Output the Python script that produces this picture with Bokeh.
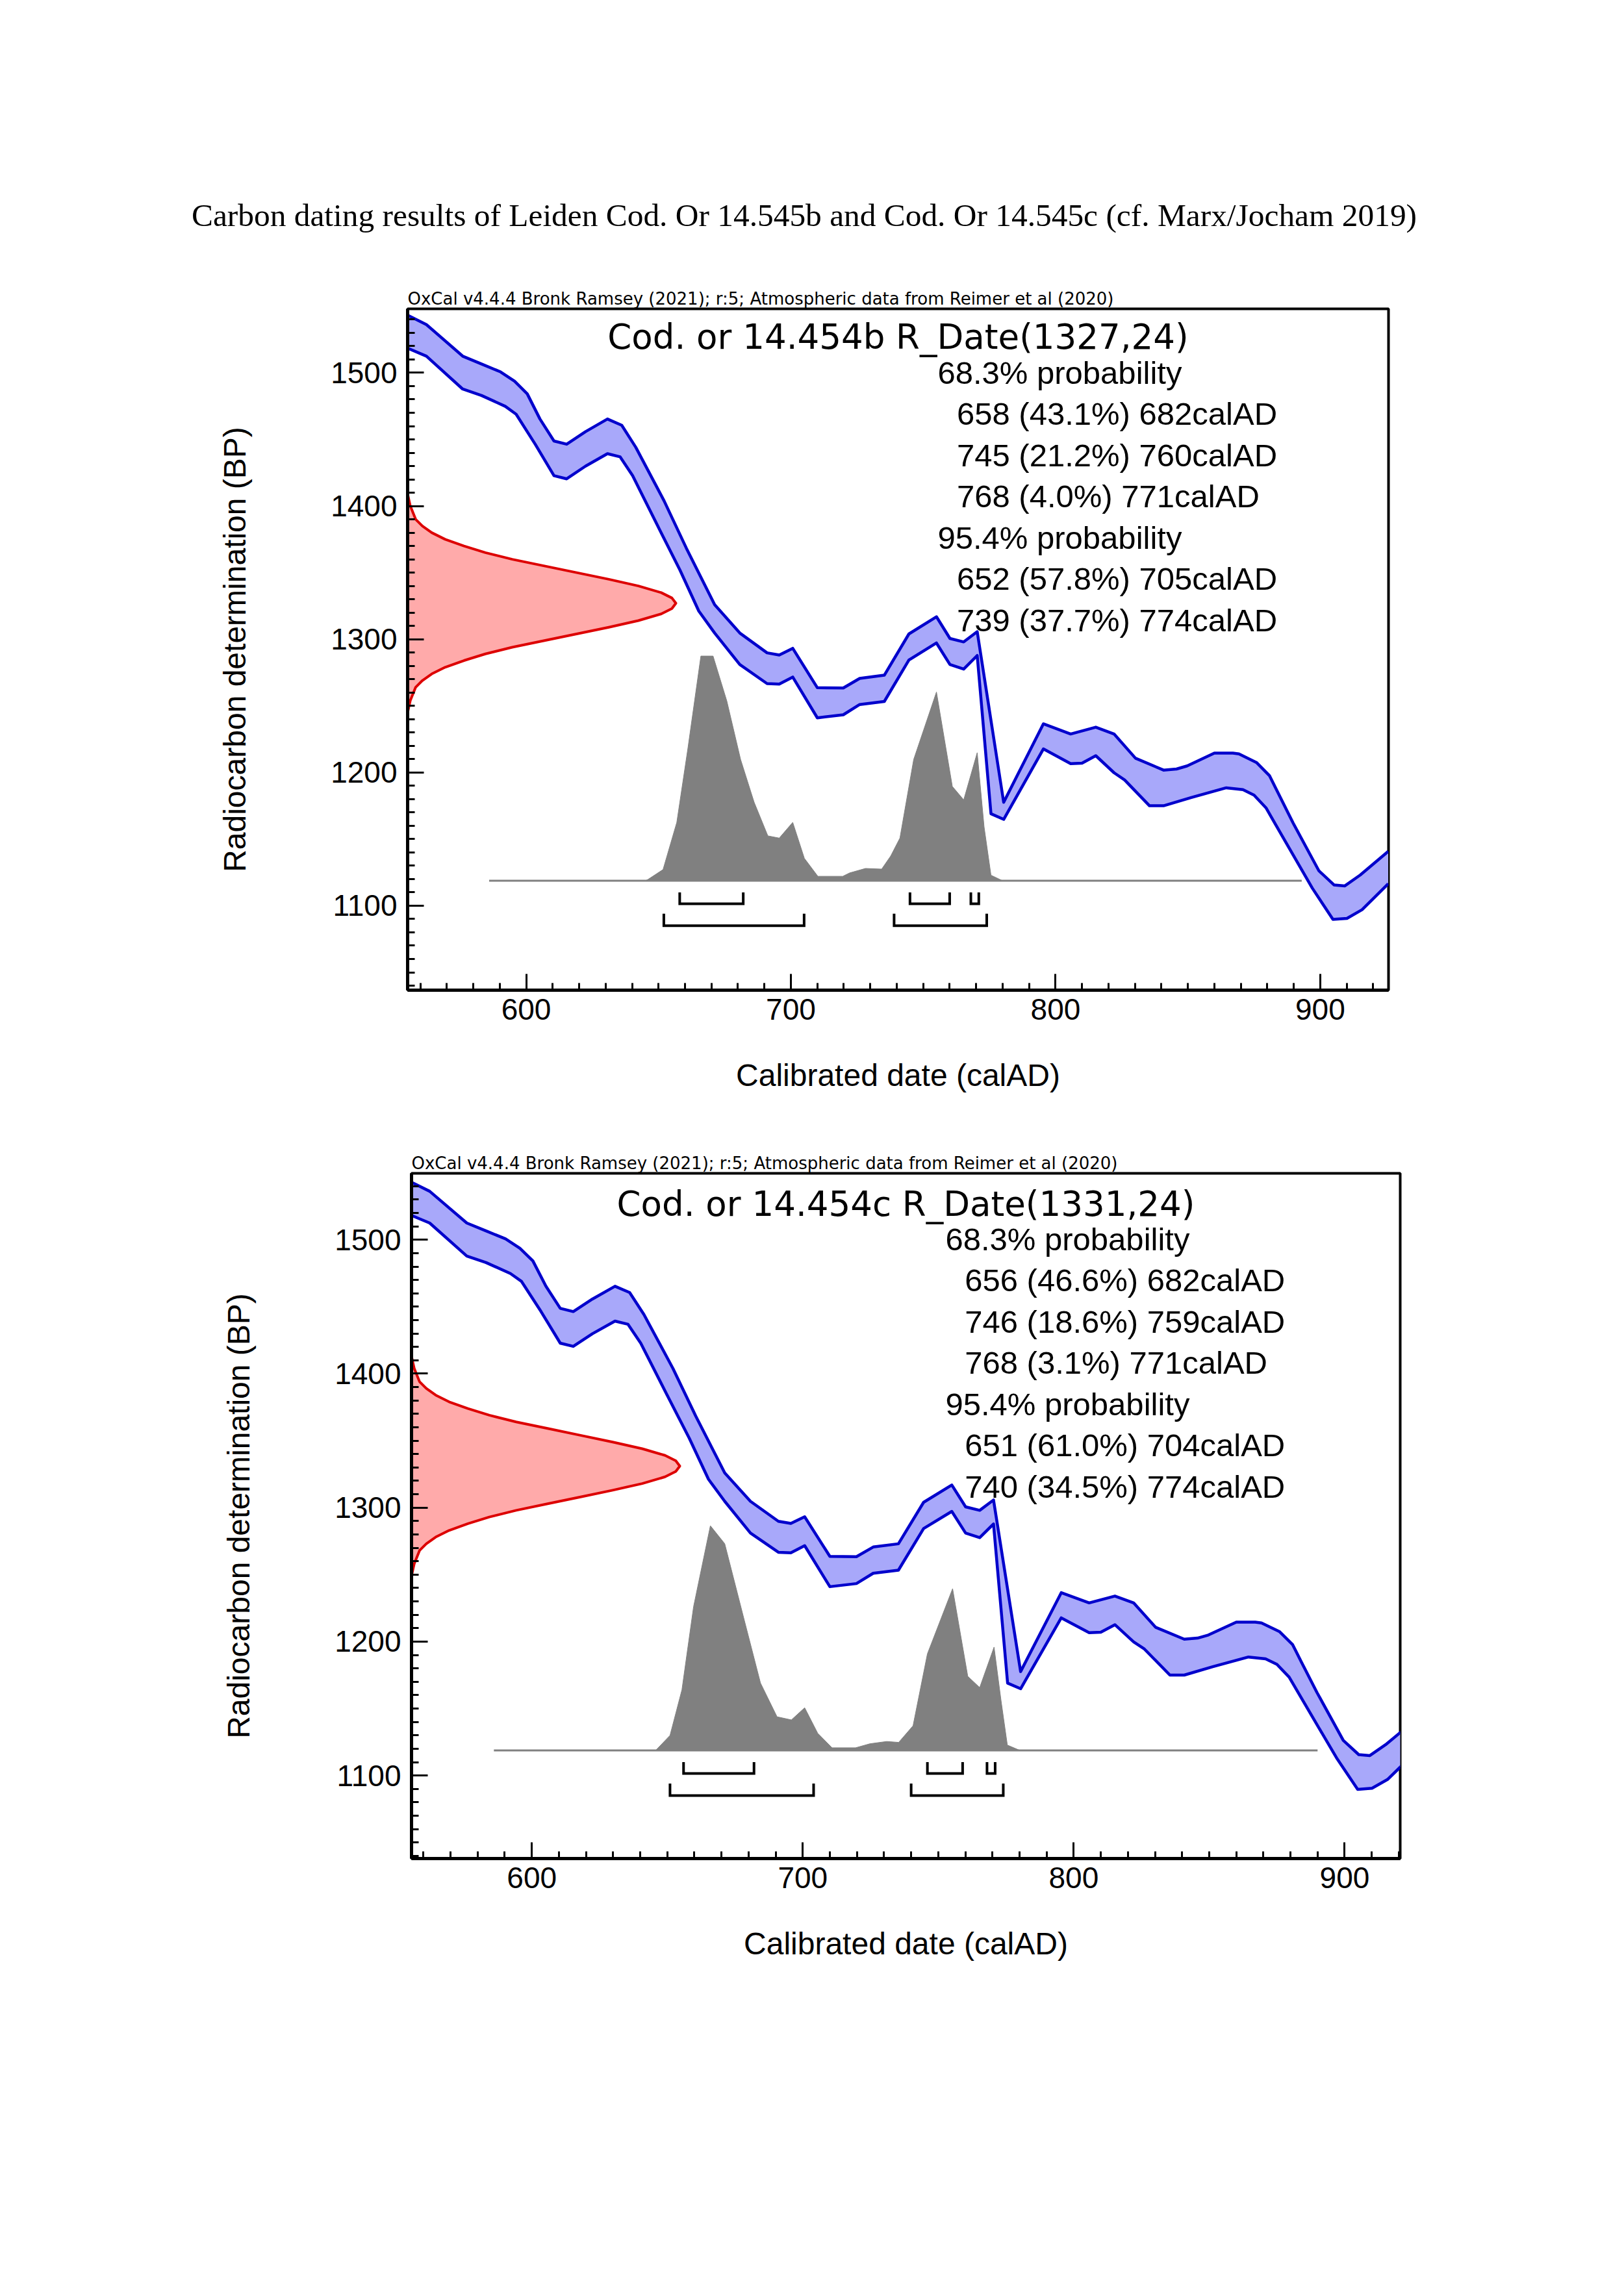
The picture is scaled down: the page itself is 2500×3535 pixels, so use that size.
from bokeh.plotting import figure
from bokeh.layouts import column
from bokeh.models import Range1d, SingleIntervalTicker, Title
from bokeh.embed import file_html
from bokeh.resources import INLINE
from bokeh.core.properties import value

# ---------------- data ----------------
PAGE_TITLE = "Carbon dating results of Leiden Cod. Or 14.545b and Cod. Or 14.545c (cf. Marx/Jocham 2019)"
HEADER = "OxCal v4.4.4 Bronk Ramsey (2021); r:5; Atmospheric data from Reimer et al (2020)"
X_LABEL = "Calibrated date (calAD)"
Y_LABEL = "Radiocarbon determination (BP)"

# calibration curve band (upper / lower edge), calAD vs BP
curve_upper_x = [555.2, 562.3, 576.0, 583.1, 590.3, 595.6, 600.4, 605.2, 610.5, 615.3, 622.4, 630.7, 636.1,
                 641.4, 652.1, 660.5, 671.2, 680.7, 691.0, 695.6, 700.7, 710.0, 719.8, 726.0, 735.3, 744.6,
                 755.0, 760.1, 765.3, 770.4, 780.4, 795.4, 805.7, 815.2, 822.1, 830.2, 840.8, 845.7, 849.7,
                 860.0, 867.0, 869.3, 875.9, 880.8, 884.1, 889.8, 899.5, 905.2, 909.3, 915.1, 925.7]
curve_upper_bp = [1543.3, 1536.2, 1512.5, 1506.6, 1500.7, 1493.7, 1484.2, 1465.3, 1448.8, 1446.4, 1455.8,
                  1465.3, 1460.6, 1444.1, 1403.9, 1368.4, 1325.9, 1304.7, 1289.8, 1288.2, 1293.2, 1263.6,
                  1263.4, 1270.6, 1273.0, 1304.0, 1316.9, 1300.6, 1298.0, 1305.7, 1177.6, 1236.5, 1228.9,
                  1234.0, 1228.9, 1210.7, 1201.8, 1202.6, 1204.9, 1214.5, 1214.5, 1213.9, 1207.5, 1197.7,
                  1184.5, 1161.9, 1126.2, 1115.6, 1114.9, 1123.0, 1140.8]
curve_lower_x = [555.2, 562.3, 576.0, 583.1, 592.1, 596.2, 603.4, 610.5, 615.3, 622.4, 630.7, 635.5, 640.2,
                 649.7, 658.1, 665.2, 671.2, 680.7, 691.0, 695.6, 700.7, 710.0, 719.8, 726.0, 735.3, 744.6,
                 755.0, 760.1, 765.3, 770.4, 775.6, 780.4, 795.4, 805.7, 810.0, 815.2, 822.1, 826.1, 835.5,
                 840.8, 851.3, 864.5, 870.8, 875.0, 879.5, 888.0, 897.0, 904.8, 910.1, 915.8, 925.7]
curve_lower_bp = [1518.5, 1512.5, 1487.8, 1483.0, 1474.8, 1468.9, 1446.4, 1422.8, 1420.4, 1429.9, 1439.3,
                  1436.9, 1422.8, 1385.0, 1351.9, 1321.2, 1304.7, 1281.0, 1266.7, 1266.3, 1271.6, 1241.0,
                  1243.3, 1251.0, 1253.3, 1284.4, 1297.2, 1281.0, 1277.6, 1287.8, 1169.0, 1164.8, 1217.7,
                  1206.6, 1207.0, 1212.6, 1199.8, 1194.4, 1175.0, 1175.0, 1181.2, 1188.5, 1187.1, 1183.0,
                  1173.5, 1144.1, 1113.2, 1089.7, 1090.5, 1097.0, 1116.5]

# relative width of the radiocarbon date curve, read at offsets (BP) from the measured date
r_offset = [82, 73, 63, 58, 53, 48, 43, 38, 33, 28, 23, 18, 13, 8, 4, 0,
            -4, -8, -13, -18, -23, -28, -33, -38, -43, -48, -53, -58, -63, -73, -82]

# sample b
b_name = "Cod. or 14.454b"
b_date, b_err = 1327, 24
b_r_rel = [0.0, 0.01, 0.03, 0.055, 0.09, 0.14, 0.21, 0.29, 0.39, 0.51, 0.63, 0.75, 0.86, 0.945, 0.985, 1.0,
           0.985, 0.945, 0.86, 0.75, 0.63, 0.51, 0.39, 0.29, 0.21, 0.14, 0.09, 0.055, 0.03, 0.01, 0.0]
b_post_x = [645.0, 646.0, 651.7, 656.9, 661.1, 666.0, 670.6, 675.8, 681.0, 686.1, 691.3, 695.6, 700.7, 705.1,
            710.2, 719.6, 722.2, 728.2, 734.3, 737.7, 741.2, 746.4, 755.0, 761.0, 765.3, 770.4, 773.0, 775.6, 780.0]
b_post_rel = [0.0, 0.006, 0.05, 0.26, 0.59, 1.0, 1.0, 0.80, 0.54, 0.35, 0.20, 0.19, 0.26, 0.10,
              0.02, 0.02, 0.035, 0.055, 0.052, 0.11, 0.19, 0.54, 0.84, 0.42, 0.36, 0.57, 0.24, 0.025, 0.0]
b_post_span = [586, 893]
b_68_from = [658, 745, 768]
b_68_to = [682, 760, 771]
b_68_pct = [43.1, 21.2, 4.0]
b_95_from = [652, 739]
b_95_to = [705, 774]
b_95_pct = [57.8, 37.7]

# sample c
c_name = "Cod. or 14.454c"
c_date, c_err = 1331, 24
c_r_rel = [0.0, 0.01, 0.03, 0.055, 0.09, 0.14, 0.21, 0.29, 0.39, 0.51, 0.63, 0.75, 0.86, 0.945, 0.985, 1.0,
           0.985, 0.945, 0.86, 0.75, 0.63, 0.51, 0.39, 0.29, 0.21, 0.14, 0.09, 0.055, 0.03, 0.01, 0.0]
c_post_x = [645.7, 651.0, 655.4, 659.7, 665.9, 671.2, 678.2, 684.4, 690.5, 695.8, 700.7, 705.5, 710.8, 719.5,
            724.8, 731.0, 735.4, 740.7, 746.0, 755.3, 760.9, 765.3, 770.6, 773.2, 775.5, 780.2]
c_post_rel = [0.0, 0.067, 0.27, 0.64, 1.0, 0.92, 0.59, 0.30, 0.15, 0.136, 0.19, 0.077, 0.012, 0.012,
              0.03, 0.04, 0.036, 0.11, 0.43, 0.72, 0.33, 0.28, 0.46, 0.22, 0.024, 0.0]
c_post_span = [586, 890]
c_68_from = [656, 746, 768]
c_68_to = [682, 759, 771]
c_68_pct = [46.6, 18.6, 3.1]
c_95_from = [651, 740]
c_95_to = [704, 774]
c_95_pct = [61.0, 34.5]

# ---------------- styling / layout constants ----------------
BAND_FILL = "#A8A8FA"
BAND_LINE = "#0000CC"
RED_FILL = "#FFAAAA"
RED_LINE = "#DD0000"
GRAY = "#808080"
POST_BASE_BP = 1118.7
R_PEAK_PX = 413
HIST_PEAK_PX = 346
ROW68_BP, ROW68_TOP = 1101.5, 1110.0
ROW95_BP, ROW95_TOP = 1085.0, 1094.0
SANS = "Liberation Sans"


def no_align(p):
    try:
        p.frame_align = False
    except Exception:
        pass


def build(name, date, err, r_rel, post_x, post_rel, post_span,
          f68, t68, p68, f95, t95, p95, xr, yr, L, T, FW, FH, H,
          title_dy, prob_dx, ind_dx, prob_dy):
    R = 2500 - L - FW
    B = H - T - FH
    p = figure(width=2500, height=H, x_range=Range1d(*xr), y_range=Range1d(*yr),
               output_backend="svg", toolbar_location=None,
               min_border_left=L, min_border_right=R, min_border_top=T, min_border_bottom=B)
    no_align(p)
    p.background_fill_color = "white"
    p.border_fill_color = "white"
    p.xgrid.visible = False
    p.ygrid.visible = False
    p.outline_line_color = "black"
    p.outline_line_width = 4

    p.title = Title(text=HEADER, align="left", text_font="DejaVu Sans", text_font_size="26px",
                    text_font_style="normal", text_color="black", standoff=2)

    xpp = (xr[1] - xr[0]) / FW
    ypp = (yr[1] - yr[0]) / FH

    def X(dx):
        return xr[0] + dx * xpp

    def Y(dy):
        return yr[1] - dy * ypp

    # radiocarbon date (red) on the y axis
    r_bp = [date + o for o in r_offset]
    rx = [xr[0] + r * R_PEAK_PX * xpp for r in r_rel]
    p.patch(rx + [xr[0], xr[0]], r_bp + [r_bp[-1], r_bp[0]], fill_color=RED_FILL, line_color=None)
    p.line(rx, r_bp, line_color=RED_LINE, line_width=4, line_join="round")

    # posterior (gray)
    p.line(post_span, [POST_BASE_BP, POST_BASE_BP], line_color=GRAY, line_width=3)
    hy = [POST_BASE_BP + r * HIST_PEAK_PX * ypp for r in post_rel]
    p.patch([post_x[0]] + post_x + [post_x[-1]], [POST_BASE_BP] + hy + [POST_BASE_BP],
            fill_color=GRAY, line_color=GRAY, line_width=1)

    # calibration band
    p.patch(curve_upper_x + curve_lower_x[::-1], curve_upper_bp + curve_lower_bp[::-1],
            fill_color=BAND_FILL, line_color=None)
    p.line(curve_upper_x, curve_upper_bp, line_color=BAND_LINE, line_width=4.5, line_join="round")
    p.line(curve_lower_x, curve_lower_bp, line_color=BAND_LINE, line_width=4.5, line_join="round")

    # range brackets
    bx, by = [], []
    for a, b in zip(f68, t68):
        bx.append([a, a, b, b]); by.append([ROW68_TOP, ROW68_BP, ROW68_BP, ROW68_TOP])
    for a, b in zip(f95, t95):
        bx.append([a, a, b, b]); by.append([ROW95_TOP, ROW95_BP, ROW95_BP, ROW95_TOP])
    p.multi_line(bx, by, line_color="black", line_width=4, line_join="miter")

    # texts
    p.text(x=[X(FW / 2)], y=[Y(title_dy)], text=[f"{name} R_Date({date},{err})"],
           text_font=value("DejaVu Sans"), text_font_size=value("53px"),
           text_align="center", text_baseline="alphabetic", text_color="black")
    lines, xs = [], []
    lines.append("68.3% probability"); xs.append(X(prob_dx))
    for a, pc, b in zip(f68, p68, t68):
        lines.append(f"{a} ({pc:.1f}%) {b}calAD"); xs.append(X(ind_dx))
    lines.append("95.4% probability"); xs.append(X(prob_dx))
    for a, pc, b in zip(f95, p95, t95):
        lines.append(f"{a} ({pc:.1f}%) {b}calAD"); xs.append(X(ind_dx))
    ys = [Y(prob_dy + i * 63.5) for i in range(len(lines))]
    p.text(x=xs, y=ys, text=lines, text_font=value(SANS), text_font_size=value("49px"),
           text_align="left", text_baseline="alphabetic", text_color="black")

    # axes
    for ax in (p.xaxis[0], p.yaxis[0]):
        ax.ticker = SingleIntervalTicker(interval=100, num_minor_ticks=10)
        ax.major_tick_in = 25
        ax.major_tick_out = 0
        ax.minor_tick_in = 11
        ax.minor_tick_out = 0
        ax.major_tick_line_width = 3
        ax.minor_tick_line_width = 3
        ax.axis_line_width = 5
        ax.major_label_text_font = SANS
        ax.major_label_text_font_size = "46px"
        ax.major_label_text_color = "black"
        ax.axis_label_text_font = SANS
        ax.axis_label_text_font_size = "48px"
        ax.axis_label_text_font_style = "normal"
        ax.axis_label_text_color = "black"
    p.xaxis.axis_label = X_LABEL
    p.yaxis.axis_label = Y_LABEL
    p.xaxis.major_label_standoff = 13
    p.yaxis.major_label_standoff = 16
    p.xaxis.axis_label_standoff = 56
    p.yaxis.axis_label_standoff = 118
    return p


# page title figure
p0 = figure(width=2500, height=420, x_range=Range1d(0, 2500), y_range=Range1d(0, 420),
            output_backend="svg", toolbar_location=None, min_border=0,
            x_axis_location=None, y_axis_location=None)
no_align(p0)
p0.xgrid.visible = False
p0.ygrid.visible = False
p0.outline_line_color = None
p0.text(x=[1237.5], y=[89], text=[PAGE_TITLE], text_font=value("Liberation Serif"),
        text_font_size=value("49.4px"), text_align="center", text_baseline="alphabetic", text_color="black")

p1 = build(b_name, b_date, b_err, b_r_rel, b_post_x, b_post_rel, b_post_span,
           b_68_from, b_68_to, b_68_pct, b_95_from, b_95_to, b_95_pct,
           xr=(555.2, 925.8), yr=(1036.6, 1548.0), L=627, T=55, FW=1510, FH=1049, H=1331,
           title_dy=43, prob_dx=816, ind_dx=845.5, prob_dy=98)

p2 = build(c_name, c_date, c_err, c_r_rel, c_post_x, c_post_rel, c_post_span,
           c_68_from, c_68_to, c_68_pct, c_95_from, c_95_to, c_95_pct,
           xr=(555.6, 920.5), yr=(1038.0, 1549.6), L=633, T=55, FW=1522, FH=1055, H=1784,
           title_dy=47, prob_dx=822, ind_dx=851.7, prob_dy=101.3)

layout = column(p0, p1, p2, spacing=0)
open("out.html", "w").write(file_html(layout, INLINE))
